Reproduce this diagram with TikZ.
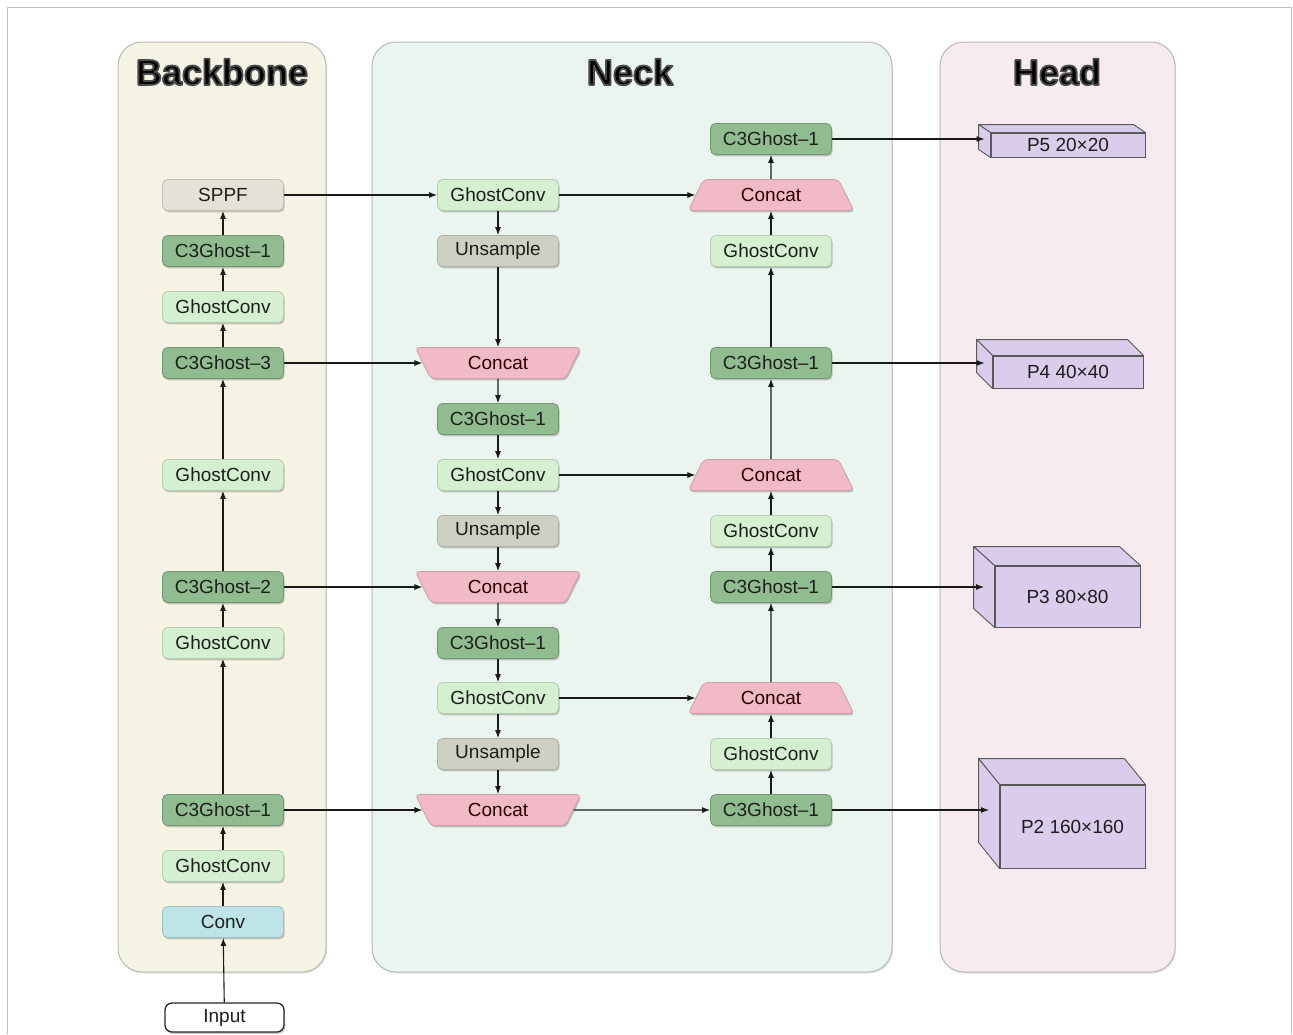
\documentclass[tikz,border=0pt]{standalone}
\usepackage{fontspec}
\setmainfont{Liberation Sans}
\usetikzlibrary{arrows.meta,shapes.geometric,shadows,calc}

\definecolor{bbfill}{HTML}{F5F4E4}
\definecolor{nkfill}{HTML}{EAF5EF}
\definecolor{hdfill}{HTML}{F8EBEF}
\definecolor{sppfc}{HTML}{E6E1D6}
\definecolor{c3c}{HTML}{90BC90}
\definecolor{gcc}{HTML}{D5F0D0}
\definecolor{upc}{HTML}{CFCFC4}
\definecolor{catc}{HTML}{F2BAC7}
\definecolor{convc}{HTML}{BEE4E8}
\definecolor{cubec}{HTML}{D9CDEB}
\definecolor{txt}{HTML}{1E1E1E}

% heading text painted with a soft dark halo (fill + stroke render mode)
\newcommand\haloText[1]{%
  \special{pdf:literal direct 2 Tr 0.3 G 1.8 w 1 j}#1\special{pdf:literal direct 0 Tr}}

\begin{document}
\begin{tikzpicture}[x=1pt,y=-1pt,
  panel/.style={draw=black!28, line width=1pt, rounded corners=24pt,
    drop shadow={shadow xshift=1pt,shadow yshift=-1.5pt,opacity=0.22}},
  title/.style={font=\fontsize{36}{40}\selectfont\bfseries, inner sep=0pt, text=black},
  block/.style={rounded corners=5pt, minimum width=121pt, minimum height=31pt,
    inner sep=0pt, font=\fontsize{19}{22}\selectfont, text=txt, line width=0.8pt,
    drop shadow={shadow xshift=1.2pt, shadow yshift=-1.8pt, opacity=0.3, fill=black!70}},
  sppf/.style={block, fill=sppfc, draw=sppfc!85!black},
  c3/.style={block, fill=c3c, draw=c3c!80!black},
  gc/.style={block, fill=gcc, draw=gcc!85!black},
  up/.style={block, fill=upc, draw=upc!85!black},
  conv/.style={block, fill=convc, draw=convc!85!black},
  inp/.style={block, fill=white, draw=black!85, line width=1.3pt, rounded corners=7pt,
    minimum width=119pt, minimum height=29pt},
  catup/.style={block, shape=trapezium, trapezium stretches=true,
    trapezium left angle=63, trapezium right angle=63,
    minimum width=166pt, minimum height=31pt, fill=catc, draw=catc!85!black,
    rounded corners=4pt, text=black!85!red},
  catdown/.style={catup, shape border rotate=180},
  cube/.style={draw=black!65, fill=cubec, line width=0.9pt, inner sep=0pt,
    font=\fontsize{19}{22}\selectfont, text=txt},
  cubeside/.style={draw=black!65, fill=cubec, line width=0.9pt, line join=round},
  arr/.style={-{Latex[length=8pt,width=6pt]}, line width=1.1pt, black!90},
]
\useasboundingbox (0,0) rectangle (1293,1034);

% frame
\draw[black!25, line width=1.2pt] (7.5,1034) -- (7.5,7.5) -- (1291.5,7.5) -- (1291.5,1034);

% panels
\path[panel, fill=bbfill] (118,42) rectangle (326,972);
\path[panel, fill=nkfill] (372,42) rectangle (892,972);
\path[panel, fill=hdfill] (940,42) rectangle (1175,972);

% titles
\node[title] (tbb) at (222,72) {\haloText{Backbone}};
\node[title] (tnk) at (630,72) {\haloText{Neck}};
\node[title] (thd) at (1057,72) {\haloText{Head}};

% backbone
\node[sppf] (bsppf) at (223,195) {SPPF};
\node[c3]   (bc3a)  at (223,251) {C3Ghost–1};
\node[gc]   (bgc1)  at (223,307) {GhostConv};
\node[c3]   (bc33)  at (223,363) {C3Ghost–3};
\node[gc]   (bgc2)  at (223,475) {GhostConv};
\node[c3]   (bc32)  at (223,587) {C3Ghost–2};
\node[gc]   (bgc3)  at (223,643) {GhostConv};
\node[c3]   (bc31)  at (223,810) {C3Ghost–1};
\node[gc]   (bgc4)  at (223,866) {GhostConv};
\node[conv] (bconv) at (223,922) {Conv};
\node[inp]  (input) at (224.5,1017.5) {Input};

% neck, top-down path
\node[gc]      (ngc1)  at (498,195) {GhostConv};
\node[up]      (nup1)  at (498,251) {Unsample};
\node[catdown] (ncat1) at (498,363) {Concat};
\node[c3]      (nc31)  at (498,419) {C3Ghost–1};
\node[gc]      (ngc2)  at (498,475) {GhostConv};
\node[up]      (nup2)  at (498,531) {Unsample};
\node[catdown] (ncat2) at (498,587) {Concat};
\node[c3]      (nc32)  at (498,643) {C3Ghost–1};
\node[gc]      (ngc3)  at (498,698) {GhostConv};
\node[up]      (nup3)  at (498,754) {Unsample};
\node[catdown] (ncat3) at (498,810) {Concat};

% neck, bottom-up path
\node[c3]    (mc3a)  at (771,139) {C3Ghost–1};
\node[catup] (mcat1) at (771,195) {Concat};
\node[gc]    (mgc1)  at (771,251) {GhostConv};
\node[c3]    (mc3b)  at (771,363) {C3Ghost–1};
\node[catup] (mcat2) at (771,475) {Concat};
\node[gc]    (mgc2)  at (771,531) {GhostConv};
\node[c3]    (mc3c)  at (771,587) {C3Ghost–1};
\node[catup] (mcat3) at (771,698) {Concat};
\node[gc]    (mgc3)  at (771,754) {GhostConv};
\node[c3]    (mc3d)  at (771,810) {C3Ghost–1};

% head: output feature maps as cuboids
\foreach \nm/\cx/\cy/\w/\h/\ox/\oy/\lbl in {
    p5/1068/145/154/24/-12/-8/{P5 20×20},
    p4/1068/372/150/32/-16/-16/{P4 40×40},
    p3/1067.5/596.5/145/61/-21/-19/{P3 80×80},
    p2/1072.5/826.5/145/83/-21/-26/{P2 160×160}} {
  \node[cube, minimum width=\w pt, minimum height=\h pt] (\nm) at (\cx,\cy) {\lbl};
  \draw[cubeside] (\nm.north west) -- ++(\ox,\oy) -- ($(\nm.north east)+(\ox,\oy)$)
    -- (\nm.north east) -- cycle;
  \draw[cubeside] (\nm.north west) -- ++(\ox,\oy) -- ($(\nm.south west)+(\ox,\oy)$)
    -- (\nm.south west) -- cycle;
  \coordinate (\nm in) at ($(\nm.west)+(\ox/2,\oy/2)$);
}

% backbone connections
\draw[arr] (input) -- (bconv);
\draw[arr] (bconv) -- (bgc4);
\draw[arr] (bgc4) -- (bc31);
\draw[arr] (bc31) -- (bgc3);
\draw[arr] (bgc3) -- (bc32);
\draw[arr] (bc32) -- (bgc2);
\draw[arr] (bgc2) -- (bc33);
\draw[arr] (bc33) -- (bgc1);
\draw[arr] (bgc1) -- (bc3a);
\draw[arr] (bc3a) -- (bsppf);

% backbone to neck
\draw[arr] (bsppf) -- (ngc1);
\draw[arr] (bc33) -- (ncat1);
\draw[arr] (bc32) -- (ncat2);
\draw[arr] (bc31) -- (ncat3);

% top-down path
\draw[arr] (ngc1) -- (nup1);
\draw[arr] (nup1) -- (ncat1);
\draw[arr] (ncat1) -- (nc31);
\draw[arr] (nc31) -- (ngc2);
\draw[arr] (ngc2) -- (nup2);
\draw[arr] (nup2) -- (ncat2);
\draw[arr] (ncat2) -- (nc32);
\draw[arr] (nc32) -- (ngc3);
\draw[arr] (ngc3) -- (nup3);
\draw[arr] (nup3) -- (ncat3);

% lateral links
\draw[arr] (ngc1) -- (mcat1);
\draw[arr] (ngc2) -- (mcat2);
\draw[arr] (ngc3) -- (mcat3);
\draw[arr] (ncat3) -- (mc3d);

% bottom-up path
\draw[arr] (mc3d) -- (mgc3);
\draw[arr] (mgc3) -- (mcat3);
\draw[arr] (mcat3) -- (mc3c);
\draw[arr] (mc3c) -- (mgc2);
\draw[arr] (mgc2) -- (mcat2);
\draw[arr] (mcat2) -- (mc3b);
\draw[arr] (mc3b) -- (mgc1);
\draw[arr] (mgc1) -- (mcat1);
\draw[arr] (mcat1) -- (mc3a);

% outputs
\draw[arr] (mc3a.east) -- (mc3a.east -| p5in);
\draw[arr] (mc3b.east) -- (mc3b.east -| p4in);
\draw[arr] (mc3c.east) -- (mc3c.east -| p3in);
\draw[arr] (mc3d.east) -- (mc3d.east -| p2in);
\end{tikzpicture}
\end{document}
